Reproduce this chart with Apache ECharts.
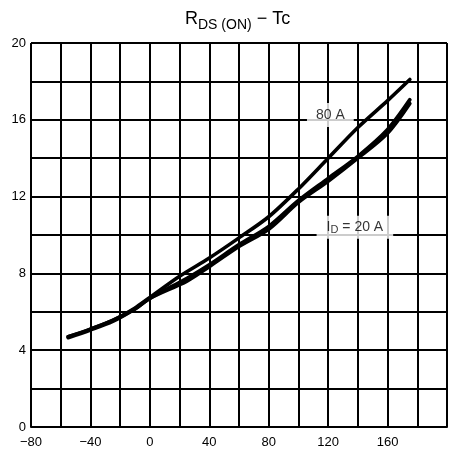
<!DOCTYPE html>
<html>
<head>
<meta charset="utf-8">
<script src="https://cdn.jsdelivr.net/npm/echarts@6/dist/echarts.min.js"></script>
<style>
  html, body { margin: 0; padding: 0; background: #fff; }
  #graph { width: 450px; height: 459px; }
</style>
</head>
<body>
<div id="graph"></div>
<script>
"use strict"

// case temperature Tc (°C) and R_DS(ON)
const tc80 = [-55, -40, -25, -10, 0, 20, 40, 60, 80, 100, 120, 140, 160, 175];
const r80 = [4.7, 5.1, 5.55, 6.2, 6.75, 7.85, 8.8, 9.85, 10.95, 12.4, 14.0, 15.6, 17.0, 18.1];
const tc20 = [-55, -40, -25, -10, 0, 25, 40, 60, 80, 100, 120, 140, 160, 175];
const r20 = [4.65, 5.05, 5.5, 6.15, 6.7, 7.75, 8.45, 9.5, 10.45, 11.8, 12.95, 14.1, 15.5, 17.05];
const tcMid = [-55, -40, -25, -10, 0, 25, 40, 60, 80, 100, 120, 140, 160, 175];
const rMid = [4.7, 5.1, 5.55, 6.15, 6.7, 7.6, 8.35, 9.4, 10.3, 11.7, 12.8, 14.0, 15.3, 16.85];

const xTicks = [-80, -40, 0, 40, 80, 120, 160];
const yTicks = [0, 4, 8, 12, 16, 20];

// curve labels: [text, tc, r]
const notes = [["80 A", 121.5, 16.25], ["ID", 138, 10.4]];

const pair = (xs, ys) => xs.map((x, i) => [x, ys[i]]);
const font = "Liberation Sans, Arial, sans-serif";

const curve = data => ({
    type: "line",
    data: data,
    smooth: 0.3,
    symbol: "none",
    lineStyle: { color: "#000", width: 3.6, cap: "round" },
    z: 3
});

const myChart = echarts.init(document.getElementById("graph"), null, { renderer: "canvas" });

const option = {
    animation: false,
    backgroundColor: "#fff",
    title: {
        left: 180,
        top: 5,
        text: "{r|R}{s|DS (ON)}{r| \u2212 Tc}",
        textStyle: {
            fontWeight: "normal",
            rich: {
                r: { fontFamily: font, fontSize: 18, fontWeight: "normal", color: "#000", verticalAlign: "bottom" },
                s: { fontFamily: font, fontSize: 14, fontWeight: "normal", color: "#000", verticalAlign: "bottom", padding: [0, 0, -4, 0] }
            }
        }
    },
    grid: { left: 31, right: -1, top: 43, bottom: 32 },
    xAxis: {
        type: "value",
        min: -80,
        max: 200,
        interval: 20,
        axisLine: { show: true, lineStyle: { color: "#000", width: 2 } },
        axisTick: { show: false },
        splitLine: { show: true, lineStyle: { color: "#000", width: 2 } },
        axisLabel: {
            margin: 9,
            fontFamily: font,
            fontSize: 13,
            color: "#000",
            formatter: v => xTicks.includes(v) ? String(v).replace("-", "\u2212") : ""
        }
    },
    yAxis: {
        type: "value",
        min: 0,
        max: 20,
        interval: 2,
        axisLine: { show: true, lineStyle: { color: "#000", width: 2 } },
        axisTick: { show: false },
        splitLine: { show: true, lineStyle: { color: "#000", width: 2 } },
        axisLabel: {
            margin: 5,
            fontFamily: font,
            fontSize: 13,
            color: "#000",
            formatter: v => yTicks.includes(v) ? String(v) : ""
        }
    },
    series: [
        curve(pair(tc80, r80)),
        curve(pair(tc20, r20)),
        curve(pair(tcMid, rMid)),
        {
            type: "scatter",
            symbolSize: 0,
            z: 5,
            data: notes.map(n => ({
                value: [n[1], n[2]],
                label: {
                    show: true,
                    position: "inside",
                    backgroundColor: "#fff",
                    padding: n[0] === "ID" ? [3, 10, 3, 10] : [5, 9, 5, 9],
                    formatter: n[0] === "ID" ? "{a|I}{b|D}{a| = 20 A}" : n[0],
                    fontFamily: font,
                    fontSize: 14,
                    color: "#000",
                    rich: {
                        a: { fontFamily: font, fontSize: 14, color: "#000" },
                        b: { fontFamily: font, fontSize: 11, color: "#000", padding: [6, 0, 0, 0] }
                    }
                }
            }))
        }
    ]
};

myChart.setOption(option);
</script>
</body>
</html>
